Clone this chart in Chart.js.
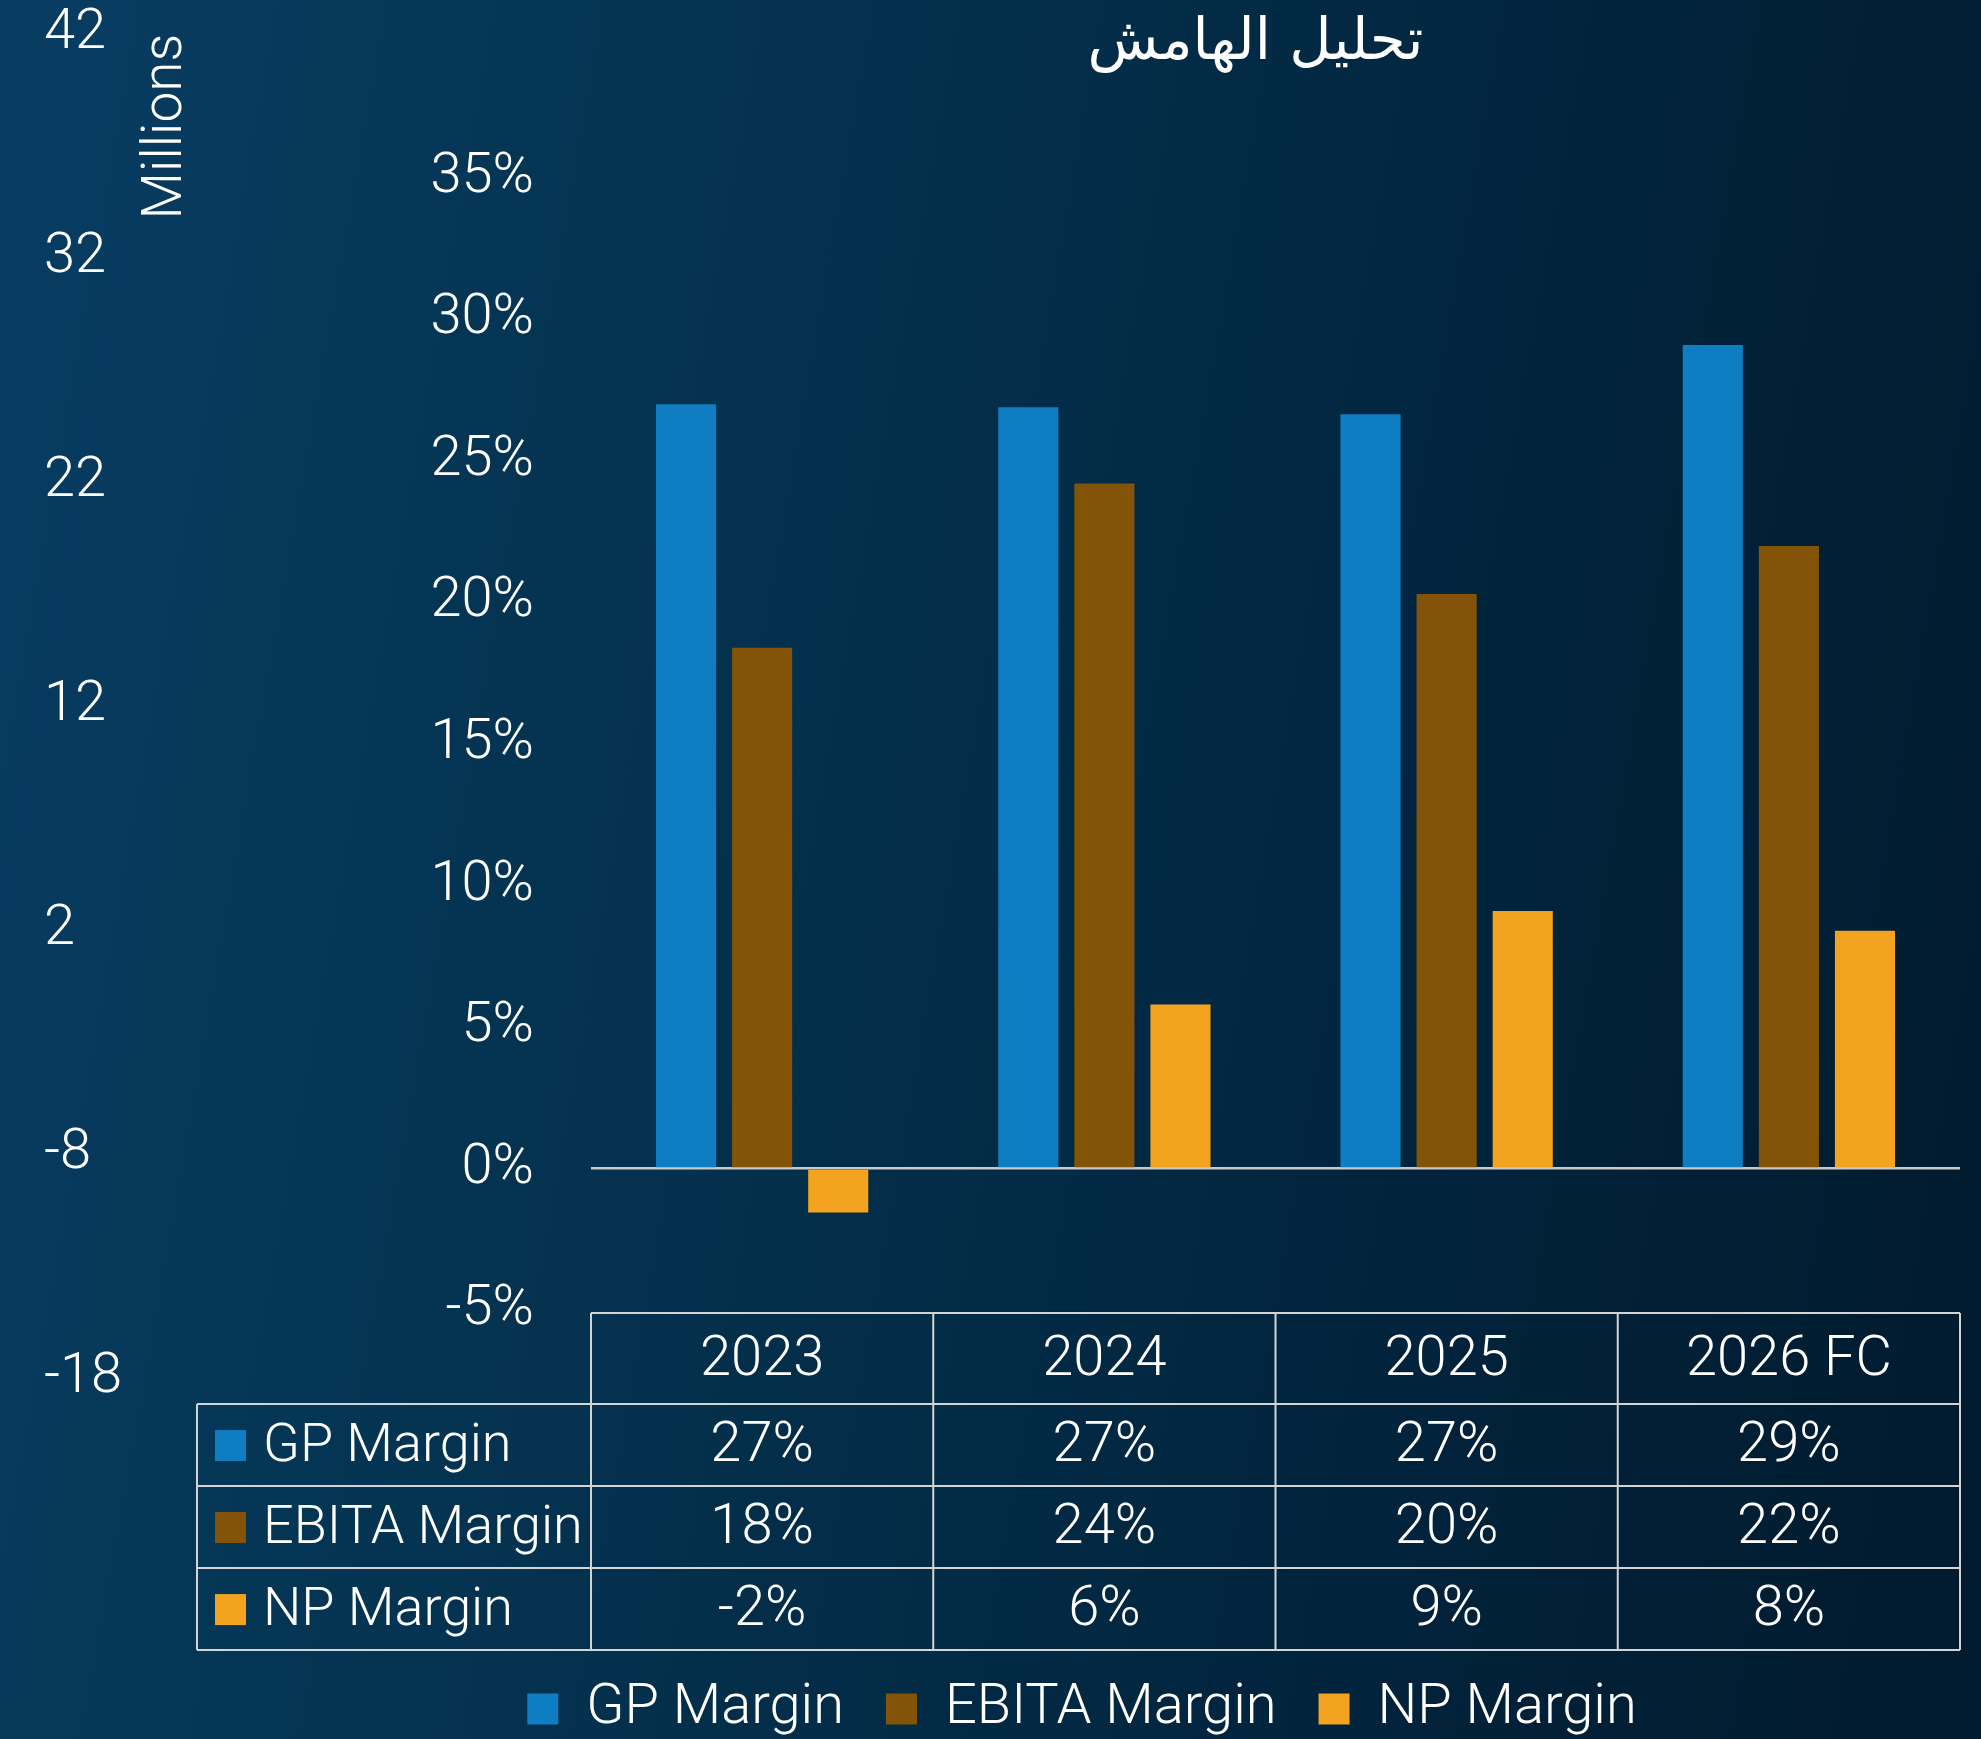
<!DOCTYPE html>
<html>
<head>
<meta charset="utf-8">
<script src="https://cdn.jsdelivr.net/npm/chart.js@4.4.0/dist/chart.umd.min.js"></script>
<style>
  html, body { margin: 0; padding: 0; }
  body {
    width: 1981px; height: 1739px; overflow: hidden;
    background: linear-gradient(100deg, #083d62 0%, #04324f 35%, #01243d 70%, #011a2d 100%);
  }
  #wrap { position: relative; width: 1981px; height: 1739px; }
  canvas { display: block; }
</style>
</head>
<body>
<div id="wrap"><canvas id="chart" width="1981" height="1739"></canvas></div>
<script>
// data (margins in %)
const categories = ['2023', '2024', '2025', '2026 FC'];
const gpMargin = [27.0, 26.9, 26.65, 29.1];
const ebitaMargin = [18.4, 24.2, 20.3, 22.0];
const npMargin = [-1.55, 5.8, 9.1, 8.4];
const pctTicks = [-5, 0, 5, 10, 15, 20, 25, 30, 35];
const seriesNames = ['GP Margin', 'EBITA Margin', 'NP Margin'];
const seriesValues = [gpMargin, ebitaMargin, npMargin];
const seriesColors = ['#0e7dc2', '#835407', '#f4a320'];
const chartTitle = 'تحليل الهامش';

const FONT = 'Roboto';
const SIZE = 56;

Chart.defaults.font.family = FONT;
Chart.defaults.font.weight = 300;
Chart.defaults.color = '#ffffff';

// data table under the plot + the arabic title
const tablePlugin = {
  id: 'dataTable',
  afterLayout(chart) {
    // legend sits a bit right of the canvas centre and a bit lower in the original
    chart.legend.left += 80;
    chart.legend.right += 80;
    chart.legend.top += 8;
    chart.legend.bottom += 8;
  },
  afterDraw(chart) {
    const ctx = chart.ctx;
    const x = chart.scales.x;
    const y = chart.scales.yPct;
    const n = categories.length;
    const colW = (x.right - x.left) / n;
    const top = y.getPixelForValue(-5) + 3;
    const headH = 91, rowH = 82;
    const labelLeft = 197;
    const bottom = top + headH + rowH * seriesValues.length;

    ctx.save();
    ctx.strokeStyle = '#d4d4d4';
    ctx.lineWidth = 2;
    ctx.beginPath();
    ctx.moveTo(x.left, top);
    ctx.lineTo(x.right, top);
    for (let r = 0; r <= seriesValues.length; r++) {
      const yy = top + headH + r * rowH;
      ctx.moveTo(labelLeft, yy);
      ctx.lineTo(x.right, yy);
    }
    ctx.moveTo(labelLeft, top + headH);
    ctx.lineTo(labelLeft, bottom);
    for (let i = 0; i <= n; i++) {
      const xx = x.left + i * colW;
      ctx.moveTo(xx, top);
      ctx.lineTo(xx, bottom);
    }
    ctx.stroke();

    ctx.font = `300 ${SIZE}px ${FONT}`;
    ctx.textBaseline = 'middle';
    ctx.fillStyle = '#ffffff';
    ctx.textAlign = 'center';
    categories.forEach((c, i) => ctx.fillText(c, x.getPixelForValue(i), top + headH / 2 + 2));
    seriesValues.forEach((vals, r) => {
      const cy = top + headH + r * rowH + rowH / 2 + 2;
      ctx.font = `300 ${SIZE}px ${FONT}`;
      ctx.textAlign = 'center';
      ctx.fillStyle = '#ffffff';
      vals.forEach((v, i) => ctx.fillText(Math.round(v) + '%', x.getPixelForValue(i), cy));
      ctx.fillStyle = seriesColors[r];
      ctx.fillRect(labelLeft + 18, cy - 17, 31, 31);
      ctx.fillStyle = '#ffffff';
      ctx.textAlign = 'left';
      ctx.font = `300 54px ${FONT}`;
      ctx.fillText(seriesNames[r], labelLeft + 66, cy);
    });

    // title
    ctx.font = '58px "DejaVu Sans"';
    ctx.textAlign = 'center';
    ctx.fillText(chartTitle, (chart.chartArea.left + chart.chartArea.right) / 2 - 20, 44);
    ctx.restore();
  }
};

new Chart(document.getElementById('chart'), {
  type: 'bar',
  data: {
    labels: categories,
    datasets: seriesNames.map((name, i) => ({
      label: name,
      data: seriesValues[i],
      backgroundColor: seriesColors[i],
      yAxisID: 'yPct',
      categoryPercentage: 0.667,
      barPercentage: 0.79
    }))
  },
  options: {
    responsive: false,
    animation: false,
    devicePixelRatio: 1,
    layout: { padding: { left: 44, right: 21, top: 0, bottom: 0 } },
    plugins: {
      tooltip: { enabled: false },
      title: { display: false },
      legend: {
        position: 'bottom',
        labels: {
          color: '#ffffff',
          font: { size: SIZE, weight: 300 },
          boxWidth: 31,
          boxHeight: 31,
          padding: 42
        }
      }
    },
    scales: {
      x: {
        grid: { display: false },
        border: { display: false },
        ticks: { display: false },
        afterFit(scale) {
          // keep the plot bottom where the millions axis ends
          scale.height = Math.max(0, scale.chart.height - scale.chart.legend.height - 1378);
        }
      },
      yMil: {
        position: 'left',
        weight: 2,
        min: -18,
        max: 42,
        grid: { display: false },
        border: { display: false },
        ticks: { stepSize: 10, padding: 0, crossAlign: 'far', font: { size: SIZE, weight: 300 }, color: '#ffffff' },
        title: {
          display: true,
          text: 'Millions',
          align: 'end',
          color: '#ffffff',
          font: { size: 55, weight: 300 },
          padding: { top: 90, bottom: 0 }
        },
        afterFit(scale) { scale.width = 200; }
      },
      yPct: {
        position: 'left',
        weight: 1,
        min: -7.4,
        max: 40.1,
        border: { display: false },
        grid: {
          drawTicks: true,
          tickLength: 57,
          tickColor: 'rgba(0,0,0,0)',
          color: (c) => (c.tick && c.tick.value === 0 ? '#c9c9c9' : 'rgba(0,0,0,0)'),
          lineWidth: 2.5
        },
        ticks: {
          padding: 0,
          font: { size: SIZE, weight: 300 },
          color: '#ffffff',
          callback: (v) => v + '%'
        },
        afterBuildTicks(scale) {
          scale.ticks = pctTicks.map((v) => ({ value: v }));
        },
        afterFit(scale) { scale.width = 347; }
      }
    }
  },
  plugins: [tablePlugin]
});
</script>
</body>
</html>
